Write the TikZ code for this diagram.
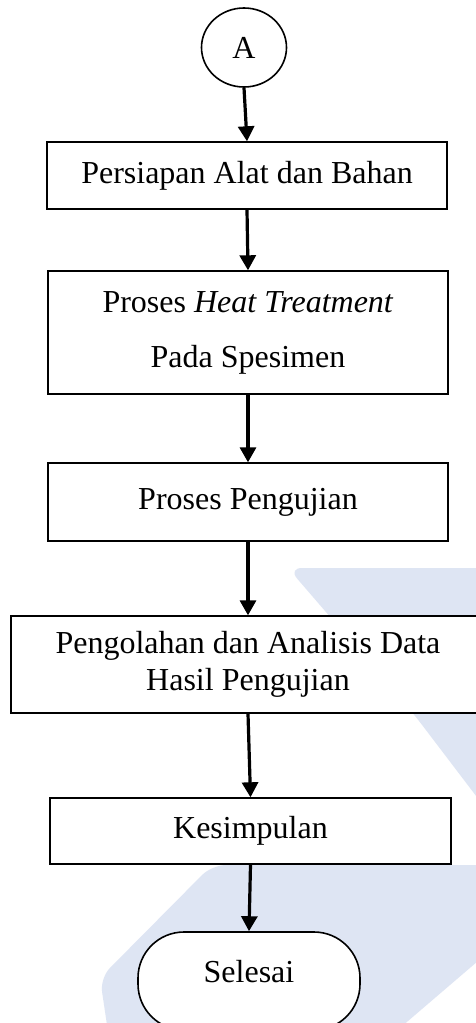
\documentclass[tikz,border=0pt]{standalone}
\usepackage{fontspec}
\setmainfont{Liberation Serif}
\usetikzlibrary{arrows.meta,shapes.geometric}
\definecolor{wm}{RGB}{222,229,243}
\begin{document}
\begin{tikzpicture}[x=1pt,y=-1pt,
  txt/.style={font=\fontsize{32}{37}\selectfont},
  box/.style={txt, draw, line width=1.4pt, fill=white, inner sep=0pt, align=center},
  flow/.style={line width=3.2pt, -{Triangle[width=16pt,length=15pt]}}]
\useasboundingbox (0,0) rectangle (476,1023);
\fill[white] (0,0) rectangle (476,1023);
\begin{scope}
  \clip (0,0) rectangle (476,1023);
  \fill[wm, rounded corners=14pt] (288,568) -- (540,568) -- (540,880) -- (413,713) -- cycle;
  \fill[wm, rounded corners=14pt] (212,865) -- (590,865) -- (380,1045) -- (110,1045) -- (100,978) -- cycle;
\end{scope}
\node (A) [txt, ellipse, draw, line width=1.6pt, fill=white, minimum width=85pt, minimum height=79pt, inner sep=0pt] at (244,47.5) {A};
\node (b1) [box, minimum width=400pt, minimum height=67pt] at (247,175.5) {Persiapan Alat dan Bahan};
\node (b2) [box, minimum width=400pt, minimum height=123pt] at (248,332.5) {Proses \textit{Heat Treatment}\\[18pt]Pada Spesimen};
\node (b3) [box, minimum width=400pt, minimum height=78pt] at (248,502) {Proses Pengujian};
\node (b4) [box, minimum width=474pt, minimum height=97pt] at (248,664.5) {Pengolahan dan Analisis Data\\Hasil Pengujian};
\node (b5) [box, minimum width=401pt, minimum height=66pt] at (250.5,831) {Kesimpulan};
\node (sel) [box, line width=1.6pt, rounded corners=46pt, minimum width=222pt, minimum height=98pt, text height=20pt, text depth=18pt] at (249,981) {Selesai};
\draw[flow] (A.south) -- (b1.north);
\draw[flow] (b1.south) -- (b2.north);
\draw[flow] (b2.south) -- (b3.north);
\draw[flow] (b3.south) -- (b4.north);
\draw[flow] (b4.south) -- (b5.north);
\draw[flow] (b5.south) -- (sel.north);
\end{tikzpicture}
\end{document}
